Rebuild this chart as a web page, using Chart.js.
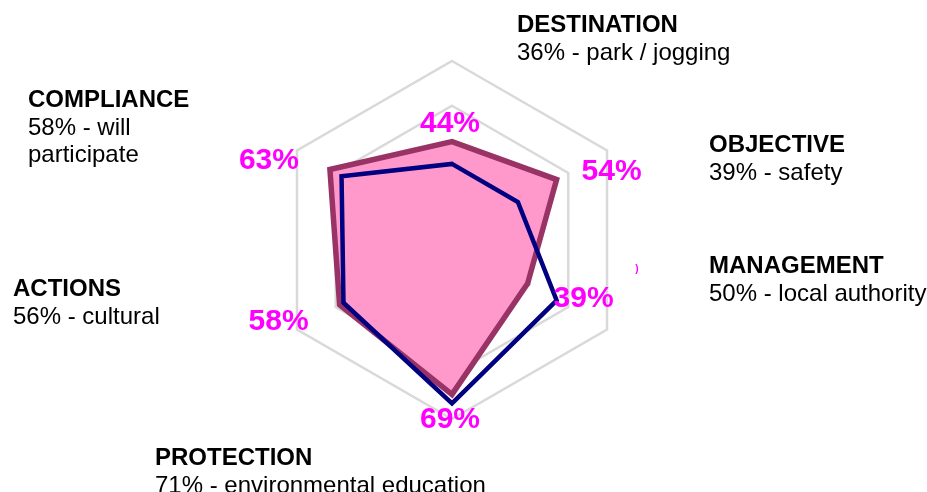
<!DOCTYPE html>
<html>
<head>
<meta charset="utf-8">
<script src="https://cdn.jsdelivr.net/npm/chart.js@4.4.1/dist/chart.umd.min.js"></script>
<style>
  html, body { margin: 0; padding: 0; background: #fff; }
  #chart { display: block; }
</style>
</head>
<body>
<canvas id="chart" width="927" height="492"></canvas>
<script>
// categories, clockwise from the top
const CATEGORIES = ['DESTINATION', 'OBJECTIVE', 'MANAGEMENT', 'PROTECTION', 'ACTIONS', 'COMPLIANCE'];
const SUBTITLES = [
    ['36% - park / jogging'],
    ['39% - safety'],
    ['50% - local authority'],
    ['71% - environmental education'],
    ['56% - cultural'],
    ['58% - will', 'participate']
];

// filled pink series and the navy outline series
const PINK_VALUES = [0.44, 0.54, 0.39, 0.69, 0.58, 0.63];
const NAVY_VALUES = [0.34, 0.34, 0.54, 0.73, 0.56, 0.57];
const PINK_LABELS = ['44%', '54%', '39%', '69%', '58%', '63%'];

// radial axis
const AXIS_MIN = 0;
const AXIS_MAX = 0.8;
const AXIS_STEP = 0.2;

// where the text blocks sit (left x, first baseline y)
const TITLE_POS = [[517, 32], [709, 152], [709, 273], [155, 465], [13, 296], [28, 107]];
const LINE_STEP = 27.5;
// offset of each value label from its point (centre x, baseline y)
const VALUE_OFFSETS = [[-2, -10], [55, 0], [56, 23], [-2, 34], [-61, 25], [-61, -1]];

const FONT = '"Liberation Sans", Arial, sans-serif';

const textPlugin = {
    id: 'textBlocks',
    afterDatasetsDraw(chart) {
        const ctx = chart.ctx;
        ctx.save();

        // value labels of the pink series
        const meta = chart.getDatasetMeta(0);
        ctx.fillStyle = '#ff00ff';
        ctx.font = 'bold 30px ' + FONT;
        ctx.textAlign = 'center';
        ctx.textBaseline = 'alphabetic';
        meta.data.forEach((pt, i) => {
            ctx.fillText(PINK_LABELS[i], pt.x + VALUE_OFFSETS[i][0], pt.y + VALUE_OFFSETS[i][1]);
        });
        // stray fragment of a label
        ctx.font = 'bold 10px ' + FONT;
        ctx.fillText(')', 637, 272);

        // category titles and descriptions
        ctx.textAlign = 'left';
        ctx.fillStyle = '#000';
        CATEGORIES.forEach((name, i) => {
            const [x, y] = TITLE_POS[i];
            ctx.font = 'bold 24px ' + FONT;
            ctx.fillText(name, x, y);
            ctx.font = '24px ' + FONT;
            SUBTITLES[i].forEach((line, j) => {
                ctx.fillText(line, x, y + LINE_STEP * (j + 1));
            });
        });
        ctx.restore();
    }
};

new Chart(document.getElementById('chart'), {
    type: 'radar',
    data: {
        labels: CATEGORIES,
        datasets: [{
            label: 'pink',
            data: PINK_VALUES,
            backgroundColor: '#ff99cc',
            borderColor: '#993366',
            borderWidth: 5.5,
            borderJoinStyle: 'miter',
            fill: true,
            pointRadius: 0,
            order: 2
        }, {
            label: 'navy',
            data: NAVY_VALUES,
            borderColor: '#000080',
            borderWidth: 4.5,
            borderJoinStyle: 'miter',
            fill: false,
            pointRadius: 0,
            order: 1
        }]
    },
    options: {
        responsive: false,
        devicePixelRatio: 1,
        animation: false,
        layout: { padding: { top: 61, bottom: 73, left: 0, right: 23 } },
        plugins: {
            legend: { display: false },
            tooltip: { enabled: false }
        },
        elements: { line: { tension: 0 } },
        scales: {
            r: {
                min: AXIS_MIN,
                max: AXIS_MAX,
                ticks: { display: false, stepSize: AXIS_STEP },
                grid: { color: '#d9d9d9', lineWidth: 2.5 },
                angleLines: { display: false },
                pointLabels: { display: false }
            }
        }
    },
    plugins: [textPlugin]
});
</script>
</body>
</html>
